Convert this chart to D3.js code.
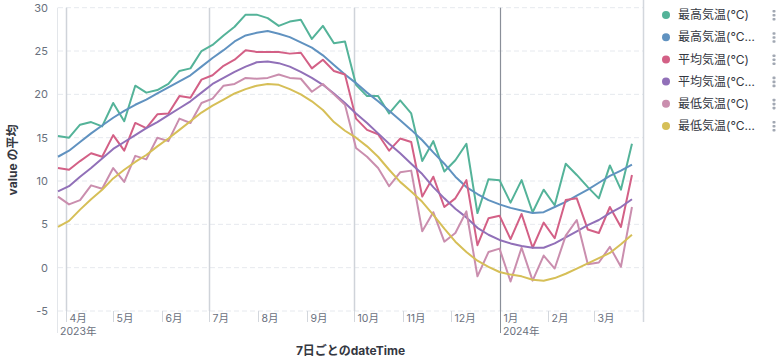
<!DOCTYPE html>
<html><head><meta charset="utf-8">
<script src="https://cdn.jsdelivr.net/npm/d3@7"></script>
<style>
html,body{margin:0;padding:0;background:#fff;}
svg{display:block;font-family:Inter,"Noto Sans CJK JP",sans-serif;}
</style></head>
<body><svg id="c" width="782" height="359"></svg>
<script>
const dates = ["2023-03-27","2023-04-03","2023-04-10","2023-04-17","2023-04-24","2023-05-01","2023-05-08","2023-05-15","2023-05-22","2023-05-29","2023-06-05","2023-06-12","2023-06-19","2023-06-26","2023-07-03","2023-07-10","2023-07-17","2023-07-24","2023-07-31","2023-08-07","2023-08-14","2023-08-21","2023-08-28","2023-09-04","2023-09-11","2023-09-18","2023-09-25","2023-10-02","2023-10-09","2023-10-16","2023-10-23","2023-10-30","2023-11-06","2023-11-13","2023-11-20","2023-11-27","2023-12-04","2023-12-11","2023-12-18","2023-12-25","2024-01-01","2024-01-08","2024-01-15","2024-01-22","2024-01-29","2024-02-05","2024-02-12","2024-02-19","2024-02-26","2024-03-04","2024-03-11","2024-03-18","2024-03-25"];

const maxTemp = [15.2,15.0,16.5,16.8,16.3,19.0,16.9,21.0,20.2,20.5,21.2,22.7,23.0,25.0,25.7,26.8,27.8,29.2,29.2,28.8,27.9,28.4,28.6,26.4,27.9,25.9,26.1,21.1,19.8,19.8,17.8,19.3,17.8,12.3,14.6,11.1,12.4,14.3,6.3,10.2,10.1,7.5,10.1,6.4,9.0,7.2,12.0,10.7,9.3,8.0,11.8,9.0,14.3];
const maxTempAvg = [12.8,13.5,14.5,15.5,16.4,17.3,18.1,18.8,19.4,20.1,20.8,21.5,22.2,23.2,24.2,25.1,26.1,26.8,27.1,27.3,27.0,26.6,26.0,25.4,24.5,23.4,22.3,21.3,20.2,19.2,18.1,17.0,15.9,14.7,13.3,12.0,10.5,9.3,8.5,7.8,7.3,6.9,6.6,6.3,6.4,7.0,7.6,8.3,9.0,9.8,10.6,11.2,11.9];
const avgTemp = [11.5,11.3,12.3,13.2,12.8,15.3,13.5,16.7,16.1,17.7,17.8,19.8,19.6,21.7,22.2,23.3,24.0,25.1,24.9,24.9,24.9,24.7,24.8,23.0,24.0,22.7,22.3,17.2,15.9,15.4,13.5,14.9,14.5,8.2,10.5,7.0,8.0,10.1,2.6,5.7,6.0,3.3,6.2,2.3,5.2,3.4,7.8,8.0,4.4,4.0,7.0,4.7,10.7];
const avgTempAvg = [8.8,9.4,10.5,11.5,12.6,13.7,14.5,15.3,16.1,16.8,17.6,18.4,19.2,20.2,21.2,21.9,22.6,23.2,23.7,23.8,23.6,23.2,22.6,21.9,21.1,20.1,19.0,17.8,16.7,15.5,14.3,13.2,12.0,10.8,9.3,8.0,6.8,5.8,4.6,3.8,3.2,2.8,2.5,2.3,2.3,2.8,3.5,4.2,4.9,5.5,6.3,7.0,7.9];
const minTemp = [8.2,7.3,7.8,9.5,9.1,11.5,9.9,12.9,12.5,15.0,14.6,17.2,16.7,19.0,19.5,21.0,21.2,21.9,21.8,21.9,22.3,21.9,21.8,20.3,21.2,20.0,18.8,13.8,12.8,11.5,9.4,11.0,11.2,4.2,6.4,3.0,4.0,6.5,-1.0,1.8,2.2,-1.6,2.3,-1.5,1.4,-0.1,3.7,5.5,0.4,0.6,2.4,0.1,7.0];
const minTempAvg = [4.7,5.4,6.7,7.9,9.0,10.3,11.3,12.2,13.0,14.0,14.9,15.9,16.9,17.9,18.7,19.4,20.1,20.6,21.0,21.2,21.1,20.6,20.0,19.2,18.2,16.8,15.8,15.0,14.0,12.8,11.3,9.9,8.8,7.6,6.1,4.5,3.0,1.8,0.8,0.1,-0.5,-0.8,-1.0,-1.4,-1.5,-1.2,-0.7,-0.1,0.5,1.1,1.7,2.7,3.8];

const seriesNames = ["最高気温(°C)","最高気温(°C…","平均気温(°C)","平均気温(°C…","最低気温(°C)","最低気温(°C…"];
const seriesColors = ["#54B399","#6092C0","#D36086","#9170B8","#CA8EAE","#D6BF57"];
const seriesValues = [maxTemp, maxTempAvg, avgTemp, avgTempAvg, minTemp, minTempAvg];
const yTicks = [-5,0,5,10,15,20,25,30];
const monthLabels = ["4月","5月","6月","7月","8月","9月","10月","11月","12月","1月","2月","3月"];
const yTitle = "value の平均";
const xTitle = "7日ごとのdateTime";

const parse = d3.timeParse("%Y-%m-%d");
const xDates = dates.map(parse);
const svg = d3.select("#c");
const L = 58, R = 643, T = 7.7, B = 311;
const x = d3.scaleTime().domain([parse("2023-03-27"), parse("2024-04-01")]).range([L, R]);
const y = d3.scaleLinear().domain([-5, 30]).range([B, T]);

// grid
const g = svg.append("g");
g.selectAll("line.gy").data(yTicks).join("line")
  .attr("x1", L).attr("x2", R).attr("y1", d => y(d)).attr("y2", d => y(d))
  .attr("stroke", "#e6e9ee").attr("stroke-dasharray", "5,3").attr("stroke-width", 1);
// left edge
g.append("line").attr("x1", L - 0.5).attr("x2", L - 0.5).attr("y1", T).attr("y2", 333)
  .attr("stroke", "#e3e6ea").attr("stroke-width", 1);

// y tick labels
svg.append("g").selectAll("text").data(yTicks).join("text")
  .attr("x", 48).attr("y", d => y(d)).attr("dy", "0.35em").attr("text-anchor", "end")
  .attr("font-size", 11).attr("fill", "#69707D").text(d => d);

// month ticks
const months = d3.timeMonth.range(parse("2023-04-01"), parse("2024-04-01"));
const ax = svg.append("g");
months.forEach((m, i) => {
  const px = Math.round(x(m)) + 0.5;
  const isQuarter = m.getMonth() % 3 === 0;
  const isYear = m.getMonth() === 0;
  if (isQuarter) {
    ax.append("line").attr("x1", px).attr("x2", px).attr("y1", T).attr("y2", B)
      .attr("stroke", isYear ? "#8a8f99" : "#cfd3d9").attr("stroke-width", isYear ? 1.2 : 1.5);
  }
  ax.append("line").attr("x1", px).attr("x2", px).attr("y1", B).attr("y2", isYear ? 333 : 322)
    .attr("stroke", isYear ? "#8a8f99" : "#d3d7dd").attr("stroke-width", 1);
  ax.append("text").attr("x", px + 3).attr("y", 322).attr("font-size", 10.5)
    .attr("fill", "#69707D").text(monthLabels[i]);
});
// right edge quarter line (Apr 2024)
const pr = Math.round(x(parse("2024-04-01"))) + 0.5;
ax.append("line").attr("x1", pr).attr("x2", pr).attr("y1", 0).attr("y2", 322)
  .attr("stroke", "#d3d7dd").attr("stroke-width", 1.5);
// year labels
ax.append("text").attr("x", L + 2).attr("y", 335).attr("font-size", 10.5).attr("fill", "#69707D").text("2023年");
ax.append("text").attr("x", Math.round(x(parse("2024-01-01"))) + 3).attr("y", 335)
  .attr("font-size", 10.5).attr("fill", "#69707D").text("2024年");

// lines
const line = d3.line().x((d, i) => x(xDates[i])).y(d => y(d));
seriesValues.forEach((vals, k) => {
  svg.append("path").datum(vals).attr("d", line).attr("fill", "none")
    .attr("stroke", seriesColors[k]).attr("stroke-width", 2).attr("stroke-linejoin", "round");
});

// titles
svg.append("text").attr("transform", "translate(17,160) rotate(-90)").attr("text-anchor", "middle")
  .attr("font-size", 12).attr("font-weight", "bold").attr("fill", "#343741").text(yTitle);
svg.append("text").attr("x", (L + R) / 2).attr("y", 355).attr("text-anchor", "middle")
  .attr("font-size", 12).attr("font-weight", "bold").attr("fill", "#343741").text(xTitle);

// legend
const lg = svg.append("g");
seriesNames.forEach((n, i) => {
  const cy = 15 + 22.2 * i;
  lg.append("circle").attr("cx", 666).attr("cy", cy).attr("r", 4).attr("fill", seriesColors[i]);
  lg.append("text").attr("x", 678).attr("y", cy).attr("dy", "0.35em").attr("font-size", 12)
    .attr("fill", "#343741").text(n);
  for (let j = 0; j < 3; j++) {
    lg.append("rect").attr("x", 772.5).attr("y", cy - 5 + j * 4).attr("width", 3).attr("height", 2.6)
      .attr("rx", 0.8).attr("fill", "#a2a8b3");
  }
});
</script></body></html>
